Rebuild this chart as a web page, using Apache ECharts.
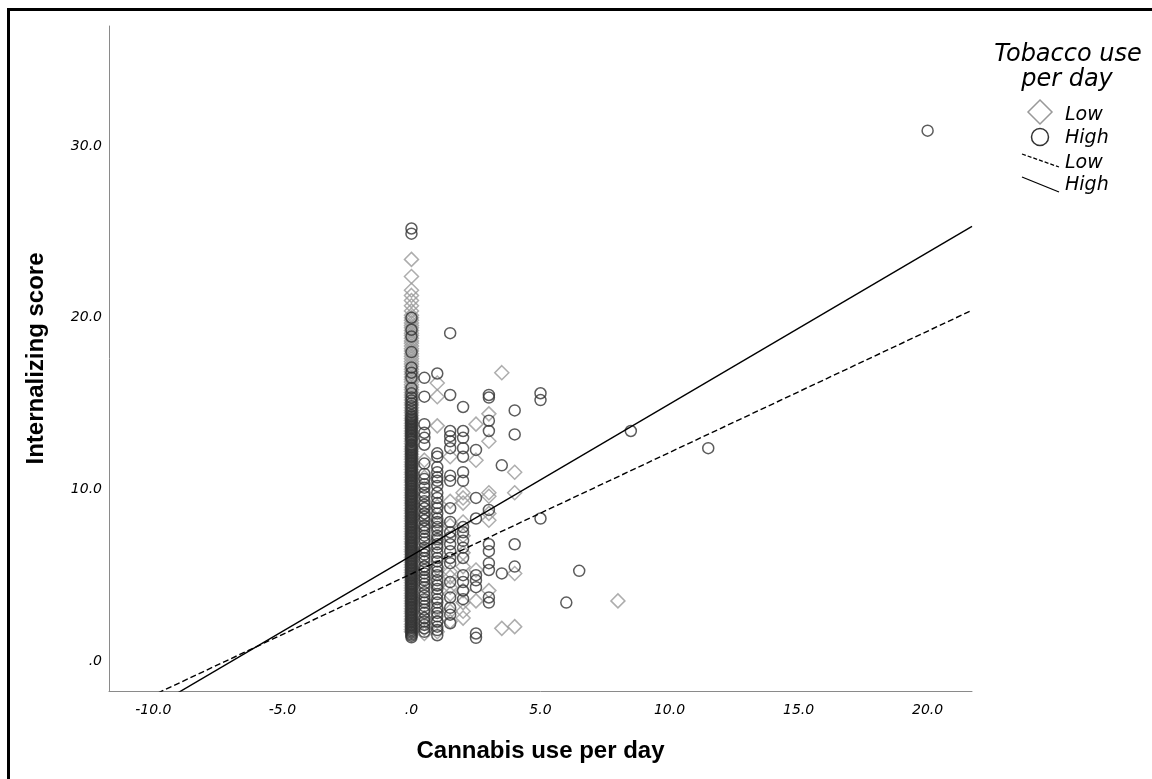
<!DOCTYPE html>
<html><head><meta charset="utf-8">
<script src="https://cdn.jsdelivr.net/npm/echarts@6/dist/echarts.min.js"></script>
<style>html,body{margin:0;padding:0;background:#fff}#c{width:1152px;height:779px}</style>
</head><body><div id="c"></div>
<script>
// ---- tick labels ----
const xTicks = [-10, -5, 0, 5, 10, 15, 20];
const xTickLabels = ['-10.0', '-5.0', '.0', '5.0', '10.0', '15.0', '20.0'];
const yTicks = [0, 10, 20, 30];
const yTickLabels = ['.0', '10.0', '20.0', '30.0'];
const xRange = [-11.72, 21.72];
const yRange = [-1.75, 37];

// ---- Tobacco use: Low (diamonds), internalizing scores per cannabis-use column ----
const lowAt0 = [1.70,1.84,2.00,2.14,2.31,2.45,2.60,2.76,2.90,3.05,3.21,3.35,3.50,3.66,3.80,3.95,4.11,4.25,4.40,4.56,4.70,4.85,5.01,5.15,5.30,5.46,5.60,5.75,5.91,6.05,6.20,6.36,6.50,6.65,6.81,6.95,7.10,7.26,7.40,7.55,7.71,7.85,8.00,8.16,8.30,8.45,8.61,8.75,8.90,9.06,9.20,9.35,9.51,9.65,9.80,9.96,10.10,10.25,10.41,10.55,10.70,10.86,11.00,11.15,11.31,11.45,11.60,11.76,11.90,12.05,12.21,12.35,12.50,12.66,12.80,12.95,13.11,13.25,13.40,13.56,13.70,13.85,14.01,14.15,14.30,14.46,14.60,14.75,14.91,15.05,15.20,15.36,15.50,15.65,15.81,15.95,16.10,16.26,16.40,16.55,16.71,16.85,17.00,17.16,17.30,17.45,17.61,17.75,17.90,18.06,18.20,18.35,18.51,18.65,18.80,18.96,19.10,19.25,19.41,19.55,19.70,19.86,20.00,20.15,20.40,20.70,21.00,21.30,21.60,22.40,23.40];
const lowAt05 = [11.7,10.7,8.9,8.6,8.2,7.8,6.5,5.5,4.8,3.5,2.5,2.2,1.9,1.6];
const lowAt1 = [16.2,15.4,13.7,9.0,8.0,7.0,5.4,4.5,3.0,2.3,1.7];
const lowAt15 = [11.9,9.3,7.9,5.2,4.9,4.3,3.9,2.9,2.3];
const lowAt2 = [9.8,9.5,9.2,8.1,7.3,6.3,5.5,4.1,3.4,2.9,2.5];
const lowAt25 = [13.8,11.7,5.3,3.5];
const lowAt3 = [14.4,12.8,9.8,9.6,8.6,8.2,4.1];
const lowAt35 = [16.8,1.9];
const lowAt4 = [11.0,9.8,5.1,2.0];
const lowOther = [[8, 3.5]];

// ---- Tobacco use: High (circles) ----
const highAt0 = [1.38,1.47,1.55,1.64,1.72,1.81,1.90,1.98,2.07,2.15,2.24,2.33,2.41,2.50,2.58,2.67,2.75,2.84,2.93,3.01,3.10,3.18,3.27,3.35,3.44,3.53,3.61,3.70,3.78,3.87,3.95,4.04,4.13,4.21,4.30,4.38,4.47,4.55,4.64,4.73,4.81,4.90,4.98,5.07,5.15,5.24,5.33,5.41,5.50,5.58,5.67,5.75,5.84,5.93,6.01,6.10,6.18,6.27,6.35,6.44,6.53,6.61,6.70,6.78,6.87,6.95,7.04,7.13,7.21,7.30,7.38,7.47,7.55,7.64,7.73,7.81,7.90,7.98,8.07,8.15,8.24,8.33,8.41,8.50,8.58,8.67,8.75,8.84,8.93,9.01,9.10,9.18,9.27,9.35,9.44,9.53,9.61,9.70,9.78,9.87,9.95,10.04,10.13,10.21,10.30,10.38,10.47,10.55,10.64,10.73,10.81,10.90,10.98,11.07,11.15,11.24,11.33,11.41,11.50,11.58,11.67,11.75,11.84,11.93,12.01,12.10,12.18,12.27,12.35,12.44,12.53,12.61,12.78,12.87,12.95,13.04,13.13,13.21,13.30,13.38,13.47,13.55,13.64,13.73,13.81,13.90,13.98,14.07,14.15,14.24,14.33,14.50,14.67,14.84,15.01,15.18,15.35,15.60,15.90,16.50,16.80,17.10,18.00,18.90,19.30,20.00,24.90,25.20];
const highAt05 = [16.5,15.4,13.8,13.3,13.0,12.6,11.5,10.9,10.6,10.3,10.1,9.8,9.6,9.3,9.1,8.9,8.6,8.4,8.2,7.9,7.7,7.5,7.3,7.1,6.9,6.6,6.4,6.2,6.0,5.8,5.5,5.3,5.1,4.9,4.7,4.5,4.3,4.0,3.8,3.6,3.4,3.2,3.0,2.8,2.5,2.3,2.1,1.9,1.7];
const highAt1 = [16.75,12.1,11.9,11.3,11.0,10.7,10.5,10.2,9.8,9.5,9.2,8.9,8.6,8.3,8.1,7.8,7.6,7.3,7.1,6.8,6.6,6.3,6.0,5.8,5.5,5.2,5.0,4.7,4.4,4.2,3.9,3.6,3.4,3.1,2.8,2.6,2.3,2.0,1.8,1.5];
const highAt15 = [19.1,15.5,13.4,13.1,12.8,12.4,10.8,10.5,8.9,8.1,7.5,7.2,6.8,6.4,6.0,5.7,4.6,3.7,3.1,2.7,2.2];
const highAt2 = [14.8,13.4,13.0,12.4,11.9,11.0,10.5,7.8,7.5,7.0,6.6,6.0,5.0,4.6,4.1,3.6];
const highAt25 = [12.3,9.5,8.3,5.0,4.7,4.3,1.6,1.35];
const highAt3 = [15.5,15.35,14.0,13.4,8.8,6.8,6.4,5.7,5.3,3.7,3.4];
const highAt35 = [11.4,5.1];
const highAt4 = [14.6,13.2,6.8,5.5];
const highAt5 = [15.6,15.2,8.3];
const highOther = [[6, 3.4], [6.5, 5.25], [8.5, 13.4], [11.5, 12.4], [20, 30.9]];

// ---- fit lines: [intercept, slope] ----
const fitLow = [5.08, 0.707];
const fitHigh = [6.14, 0.8835];

function col(x, ys) { return ys.map(function (y) { return [x, y]; }); }
const lowData = [].concat(col(0, lowAt0), col(0.5, lowAt05), col(1, lowAt1), col(1.5, lowAt15),
  col(2, lowAt2), col(2.5, lowAt25), col(3, lowAt3), col(3.5, lowAt35), col(4, lowAt4), lowOther);
const highData = [].concat(col(0, highAt0), col(0.5, highAt05), col(1, highAt1), col(1.5, highAt15),
  col(2, highAt2), col(2.5, highAt25), col(3, highAt3), col(3.5, highAt35), col(4, highAt4),
  col(5, highAt5), highOther);
function fitLine(f) { return xRange.map(function (x) { return [x, f[0] + f[1] * x]; }); }

function lab(ticks, labels) {
  return function (v) {
    for (let i = 0; i < ticks.length; i++) if (Math.abs(ticks[i] - v) < 1e-6) return labels[i];
    return '';
  };
}

const chart = echarts.init(document.getElementById('c'), null, { renderer: 'canvas' });
const tickFont = { fontStyle: 'italic', fontFamily: 'DejaVu Sans', fontSize: 14, color: '#000' };
const titleFont = { fontWeight: 'bold', fontFamily: 'Liberation Sans', fontSize: 24, color: '#000' };
const legFont = 'italic 19px "DejaVu Sans"';

chart.setOption({
  animation: false,
  backgroundColor: '#fff',
  grid: { left: 109, right: 180, top: 26, bottom: 88, outerBoundsMode: 'none' },
  xAxis: {
    type: 'value', min: xRange[0], max: xRange[1],
    axisLine: { show: true, onZero: false, lineStyle: { color: '#8a8a8a', width: 1 } },
    axisTick: { show: false }, splitLine: { show: false },
    axisLabel: Object.assign({ customValues: xTicks, formatter: lab(xTicks, xTickLabels), margin: 12 }, tickFont),
    name: 'Cannabis use per day', nameLocation: 'middle', nameGap: 48, nameTextStyle: titleFont
  },
  yAxis: {
    type: 'value', min: yRange[0], max: yRange[1],
    axisLine: { show: true, onZero: false, lineStyle: { color: '#8a8a8a', width: 1 } },
    axisTick: { show: false }, splitLine: { show: false },
    axisLabel: Object.assign({ customValues: yTicks, formatter: lab(yTicks, yTickLabels), margin: 7 }, tickFont),
    name: 'Internalizing score', nameLocation: 'middle', nameGap: 61, nameRotate: 90, nameTextStyle: titleFont
  },
  series: [
    { type: 'scatter', data: lowData, symbol: 'diamond', symbolSize: 14, silent: true,
      itemStyle: { color: 'rgba(0,0,0,0)', borderColor: '#999', borderWidth: 1.5 } },
    { type: 'scatter', data: highData, symbol: 'circle', symbolSize: 11, silent: true,
      itemStyle: { color: 'rgba(0,0,0,0)', borderColor: '#333', borderWidth: 1.5 } },
    { type: 'line', data: fitLine(fitLow), symbol: 'none', silent: true, clip: true,
      lineStyle: { color: '#000', width: 1.4, type: [6, 3] } },
    { type: 'line', data: fitLine(fitHigh), symbol: 'none', silent: true, clip: true,
      lineStyle: { color: '#000', width: 1.4 } }
  ],
  graphic: [
    { type: 'line', shape: { x1: 7, y1: 9.5, x2: 1152, y2: 9.5 }, style: { stroke: '#000', lineWidth: 3 } },
    { type: 'line', shape: { x1: 8.5, y1: 8, x2: 8.5, y2: 779 }, style: { stroke: '#000', lineWidth: 3 } },
    { type: 'text', style: { text: 'Tobacco use', x: 1068, y: 55, font: 'italic 24px "DejaVu Sans"', fill: '#000', textAlign: 'center', textVerticalAlign: 'middle', align: 'center', verticalAlign: 'middle' } },
    { type: 'text', style: { text: 'per day', x: 1067, y: 80, font: 'italic 24px "DejaVu Sans"', fill: '#000', textAlign: 'center', textVerticalAlign: 'middle', align: 'center', verticalAlign: 'middle' } },
    { type: 'polygon', shape: { points: [[1040, 100], [1052, 112], [1040, 124], [1028, 112]] }, style: { fill: 'none', stroke: '#999', lineWidth: 1.5 } },
    { type: 'circle', shape: { cx: 1040, cy: 137, r: 8.5 }, style: { fill: 'none', stroke: '#333', lineWidth: 1.5 } },
    { type: 'line', shape: { x1: 1022, y1: 154, x2: 1059, y2: 167 }, style: { stroke: '#000', lineWidth: 1.3, lineDash: [4, 2] } },
    { type: 'line', shape: { x1: 1022, y1: 177, x2: 1059, y2: 192 }, style: { stroke: '#000', lineWidth: 1.3 } },
    { type: 'text', style: { text: 'Low', x: 1065, y: 115, font: legFont, fill: '#000', textAlign: 'left', textVerticalAlign: 'middle', align: 'left', verticalAlign: 'middle' } },
    { type: 'text', style: { text: 'High', x: 1065, y: 138, font: legFont, fill: '#000', textAlign: 'left', textVerticalAlign: 'middle', align: 'left', verticalAlign: 'middle' } },
    { type: 'text', style: { text: 'Low', x: 1065, y: 163, font: legFont, fill: '#000', textAlign: 'left', textVerticalAlign: 'middle', align: 'left', verticalAlign: 'middle' } },
    { type: 'text', style: { text: 'High', x: 1065, y: 185, font: legFont, fill: '#000', textAlign: 'left', textVerticalAlign: 'middle', align: 'left', verticalAlign: 'middle' } }
  ]
});
</script>
</body></html>
